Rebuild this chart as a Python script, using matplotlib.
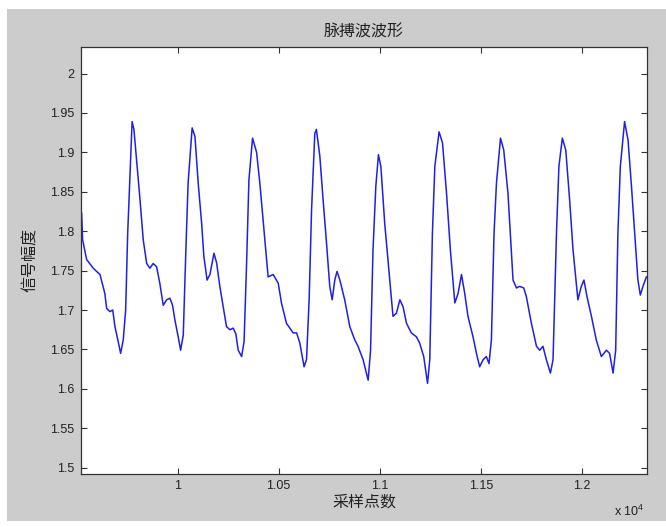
import matplotlib.pyplot as plt
from matplotlib.patches import Rectangle
from matplotlib.ticker import FixedLocator, FuncFormatter

plt.rcParams['font.family'] = ['Liberation Sans', 'Noto Sans CJK SC', 'DejaVu Sans']
plt.rcParams['mathtext.default'] = 'regular'

CJK = ['Noto Sans CJK SC', 'DejaVu Sans']

TITLE = "脉搏波波形"
X_LABEL = "采样点数"
Y_LABEL = "信号幅度"

# sample index and amplitude
samples = [
    9525, 9530, 9550, 9583, 9599, 9616, 9640, 9649, 9665, 9679, 9690, 9706, 9718, 9731,
    9743, 9753, 9764, 9775, 9784, 9800, 9814, 9830, 9847, 9863, 9879, 9896, 9912, 9929,
    9946, 9962, 9975, 9987, 10003, 10015, 10028, 10041, 10052, 10072, 10086, 10102,
    10119, 10130, 10146, 10160, 10180, 10193, 10209, 10226, 10242, 10259, 10275, 10288,
    10300, 10317, 10329, 10341, 10353, 10371, 10391, 10407, 10423, 10448, 10473, 10498,
    10514, 10539, 10572, 10589, 10605, 10626, 10638, 10651, 10663, 10679, 10687, 10704,
    10720, 10737, 10753, 10765, 10778, 10789, 10803, 10827, 10852, 10877, 10893, 10918,
    10943, 10955, 10967, 10981, 10994, 11006, 11025, 11047, 11066, 11083, 11100, 11116,
    11133, 11157, 11182, 11198, 11218, 11237, 11248, 11261, 11273, 11294, 11311, 11331,
    11350, 11372, 11388, 11405, 11421, 11437, 11462, 11479, 11495, 11512, 11528, 11541,
    11553, 11566, 11578, 11598, 11614, 11635, 11660, 11677, 11693, 11713, 11726, 11751,
    11776, 11792, 11808, 11825, 11845, 11858, 11875, 11887, 11904, 11921, 11940, 11957,
    11981, 11998, 12011, 12026, 12048, 12072, 12097, 12122, 12138, 12155, 12168, 12179,
    12191, 12212, 12229, 12245, 12262, 12278, 12290, 12303, 12320,
]
amplitude = [
    1.823, 1.789, 1.764, 1.753, 1.749, 1.745, 1.721, 1.702, 1.698, 1.700, 1.679, 1.660, 1.645, 1.662,
    1.700, 1.797, 1.869, 1.939, 1.929, 1.882, 1.840, 1.789, 1.759, 1.753, 1.759, 1.755, 1.734, 1.706,
    1.713, 1.715, 1.706, 1.687, 1.666, 1.649, 1.668, 1.776, 1.861, 1.931, 1.920, 1.861,
    1.810, 1.768, 1.738, 1.745, 1.772, 1.760, 1.730, 1.704, 1.679, 1.675, 1.677, 1.670,
    1.649, 1.641, 1.660, 1.755, 1.865, 1.918, 1.900, 1.861, 1.814, 1.742, 1.745, 1.734,
    1.709, 1.683, 1.671, 1.671, 1.658, 1.628, 1.637, 1.713, 1.827, 1.924, 1.929, 1.895,
    1.840, 1.785, 1.730, 1.713, 1.738, 1.749, 1.738, 1.713, 1.679, 1.662, 1.654, 1.637,
    1.611, 1.649, 1.776, 1.857, 1.897, 1.882, 1.810, 1.747, 1.692, 1.696, 1.713, 1.704,
    1.683, 1.671, 1.666, 1.658, 1.641, 1.607, 1.637, 1.797, 1.882, 1.926, 1.912, 1.848,
    1.776, 1.709, 1.721, 1.745, 1.721, 1.692, 1.666, 1.645, 1.628, 1.637, 1.641, 1.632,
    1.662, 1.797, 1.861, 1.918, 1.903, 1.848, 1.738, 1.728, 1.730, 1.728, 1.717, 1.683,
    1.654, 1.649, 1.654, 1.637, 1.620, 1.637, 1.797, 1.882, 1.918, 1.903, 1.840, 1.776,
    1.713, 1.730, 1.738, 1.717, 1.692, 1.662, 1.641, 1.649, 1.645, 1.620, 1.649, 1.797,
    1.882, 1.939, 1.916, 1.861, 1.797, 1.738, 1.719, 1.730, 1.742,
]

x_ticks = [10000, 10500, 11000, 11500, 12000]
y_ticks = [1.5, 1.55, 1.6, 1.65, 1.7, 1.75, 1.8, 1.85, 1.9, 1.95, 2.0]

W, H = 666, 527
fig = plt.figure(figsize=(W / 100, H / 100), dpi=100, facecolor='white')
# matlab-like grey figure panel inside a thin white frame
fig.patches.append(Rectangle((7 / W, 1 - 521 / H), 659 / W, 512 / H,
                             transform=fig.transFigure, facecolor='#cccccc',
                             edgecolor='none', zorder=-10))

ax = fig.add_axes([81 / W, 1 - 474 / H, 566 / W, 427.3 / H])
ax.set_facecolor('white')
ax.plot(samples, amplitude, color='#1f1fe6', linewidth=1.1)

ax.set_xlim(9522, 12323)
ax.set_ylim(1.492, 2.034)

ax.xaxis.set_major_locator(FixedLocator(x_ticks))
ax.yaxis.set_major_locator(FixedLocator(y_ticks))
ax.xaxis.set_major_formatter(FuncFormatter(lambda v, p: f"{v / 1e4:g}"))
ax.yaxis.set_major_formatter(FuncFormatter(lambda v, p: f"{v:g}"))
ax.tick_params(direction='in', length=4, width=0.8, top=True, right=True,
               labelsize=9, labelcolor='#222222', color='#333333', pad=5)
ax.tick_params(axis='x', pad=4)
for s in ax.spines.values():
    s.set_color('#333333')
    s.set_linewidth(0.9)

ax.set_title(TITLE, family=CJK, fontsize=11.5, color='#222222', pad=7)
ax.set_xlabel(X_LABEL, family=CJK, fontsize=11.5, color='#222222')
ax.set_ylabel(Y_LABEL, family=CJK, fontsize=11.5, color='#222222')
ax.xaxis.set_label_coords(0.5, -0.045)
ax.yaxis.set_label_coords(-0.075, 0.5)

ax.text(0.995, -0.07, r'x 10$^{4}$', transform=ax.transAxes, ha='right', va='top',
        fontsize=9, color='#222222')

fig.savefig("out.png", dpi=100, facecolor=fig.get_facecolor())
